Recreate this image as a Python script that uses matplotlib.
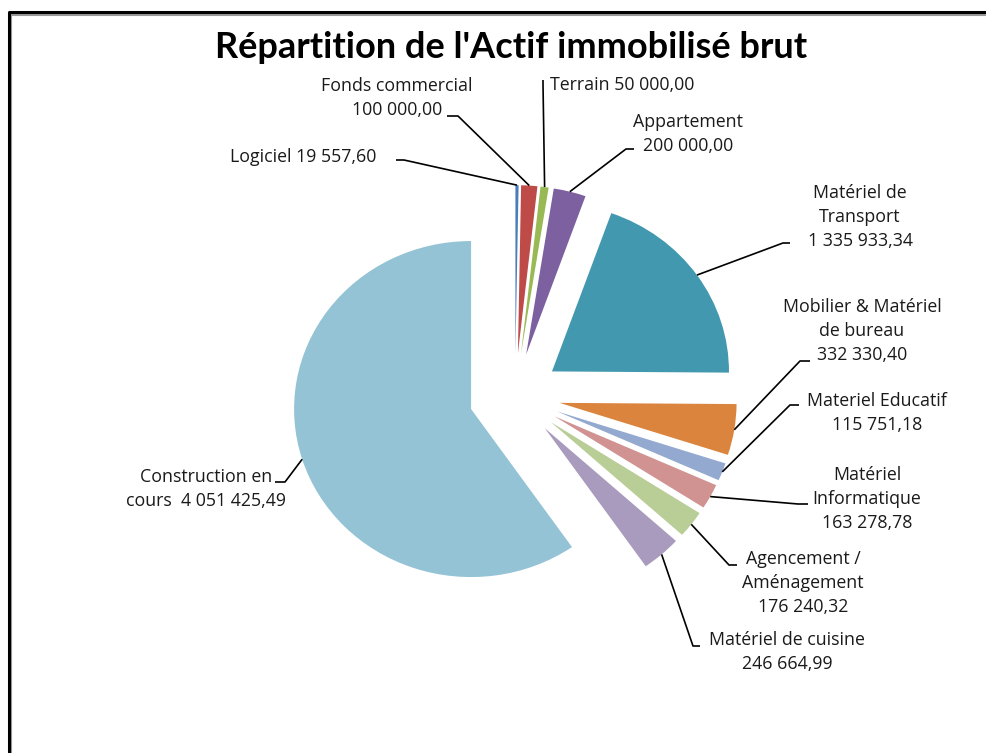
import numpy as np
import matplotlib
matplotlib.use("Agg")
import matplotlib.pyplot as plt
from matplotlib.lines import Line2D

# data
categories = ["Logiciel", "Fonds commercial", "Terrain", "Appartement",
              "Matériel de\nTransport", "Mobilier & Matériel\nde bureau",
              "Materiel Educatif", "Matériel\nInformatique",
              "Agencement /\nAménagement", "Matériel de cuisine",
              "Construction en\ncours "]
values = [19557.60, 100000.00, 50000.00, 200000.00, 1335933.34, 332330.40,
          115751.18, 163278.78, 176240.32, 246664.99, 4051425.49]
seps = [" ", "\n", " ", "\n", "\n", "\n", "\n", "\n", "\n", "\n", " "]
colors = ["#4a7ebb", "#be4b48", "#98b954", "#7d60a0", "#4298af", "#db843d",
          "#93a9cf", "#d19392", "#b9cd96", "#a99bbd", "#93c3d5"]
title = "Répartition de l'Actif immobilisé brut"

# layout (pixels)
W, H = 986, 753
CX, CY = 515, 396      # pie centre
RX, RY = 177, 168      # radii (picture is slightly stretched)
explode = [0.255] * 10 + [0.26]

# label centre, leader end at label side, elbow
lab_pos = [(303, 157), (397, 98), (622, 85), (688, 134), (860, 217),
           (862, 331), (877, 413), (867, 499), (803, 583), (787, 652),
           (206, 489)]
lead_pts = [[(396, 160), (404, 160)], [(447, 116), (458, 116)],
            [(543, 80), (543, 84)], [(634, 149), (626, 149)],
            [(790, 243), (783, 243)], [(810, 361), (800, 361)],
            [(799, 405), (790, 405)], [(808, 504), (798, 504)],
            [(737, 565), (729, 565)], [(700, 646), (693, 646)],
            [(275, 482), (285, 482)]]


def fmt(v):
    return "{:,.2f}".format(v).replace(",", " ").replace(".", ",")


def to_data(px, py):
    return (px - CX) / RX, (CY - py) / RY


fig = plt.figure(figsize=(W / 100, H / 100), dpi=100)
ax = fig.add_axes([0, 0, 1, 1])
wedges, _ = ax.pie(values, colors=colors, startangle=90, counterclock=False,
                   explode=explode, radius=1,
                   wedgeprops=dict(linewidth=0))
ax.set_aspect('auto')
ax.set_xlim(-CX / RX, (W - CX) / RX)
ax.set_ylim((CY - H) / RY, CY / RY)
ax.axis('off')

for w, name, sep, v, (lx, ly), pts in zip(wedges, categories, seps, values,
                                          lab_pos, lead_pts):
    th = np.deg2rad((w.theta1 + w.theta2) / 2)
    cx, cy = w.center
    px, py = cx + w.r * np.cos(th), cy + w.r * np.sin(th)
    (ex, ey), (bx, by) = [to_data(*p) for p in pts]
    ax.plot([ex, bx, px], [ey, by, py], color='black', lw=1.2,
            solid_capstyle='butt')
    tx, ty = to_data(lx, ly)
    ax.text(tx, ty, name + sep + fmt(v), ha='center', va='center',
            fontsize=12.8, family='Open Sans', color='#1a1a1a',
            linespacing=1.45)

fig.text(511 / W, 1 - 47 / H, title, ha='center', va='center',
         fontsize=26, weight='bold', family='Lato', color='black')

# chart frame
fig.add_artist(Line2D([10.5 / W, 10.5 / W, 1], [0, 1 - 14.5 / H, 1 - 14.5 / H],
                      transform=fig.transFigure, color='#999999', lw=1.5))
fig.add_artist(Line2D([8.5 / W, 8.5 / W, 1], [0, 1 - 12 / H, 1 - 12 / H],
                      transform=fig.transFigure, color='black', lw=2.2))

fig.savefig("out.png", dpi=100, facecolor='white')
